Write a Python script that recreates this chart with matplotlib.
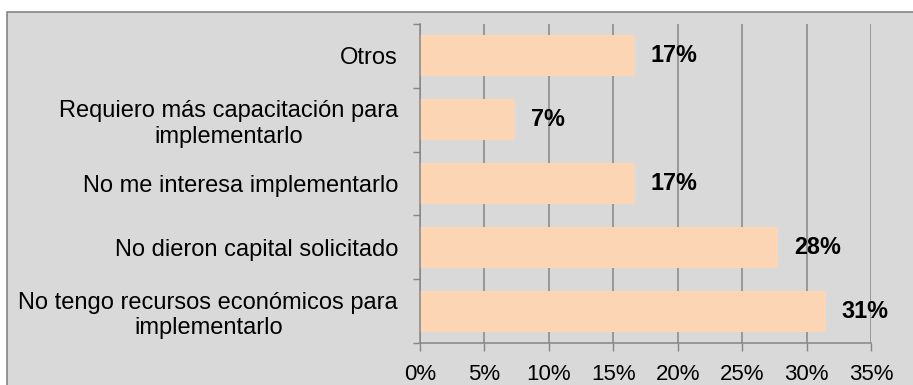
import matplotlib.pyplot as plt
import numpy as np
from matplotlib.patches import Rectangle
from matplotlib.ticker import FixedLocator, PercentFormatter

# respuestas, de arriba hacia abajo (54 encuestados)
categorias = [
    "Otros",
    "Requiero más capacitación para\nimplementarlo",
    "No me interesa implementarlo",
    "No dieron capital solicitado",
    "No tengo recursos económicos para\nimplementarlo",
]
porcentajes = [16.67, 7.41, 16.67, 27.78, 31.48]
ticks_x = [0, 5, 10, 15, 20, 25, 30, 35]

plt.rcParams["font.family"] = ["Liberation Sans", "DejaVu Sans"]

fondo = "#D9D9D9"
gris = "#868686"
durazno = "#FCD5B5"

fig = plt.figure(figsize=(9.13, 3.85), dpi=100)
fig.patch.set_facecolor("white")

# marco gris del area del grafico
marco = Rectangle((7 / 913, -0.1), 1.2, 1 - 12 / 385 + 0.1,
                  transform=fig.transFigure, facecolor=fondo,
                  edgecolor=gris, linewidth=1.2, zorder=-5)
fig.add_artist(marco)

ax = fig.add_axes([420 / 913, 1 - 343 / 385, 451 / 913, 319 / 385])
ax.set_zorder(1)
ax.patch.set_alpha(0)

y = np.arange(len(categorias))
ax.barh(y, porcentajes, height=0.64, color=durazno, zorder=2)

for yi, v in zip(y, porcentajes):
    ax.annotate(f"{v:.0f}%", (v, yi), xytext=(16, 0), textcoords="offset pixels",
                ha="left", va="center", fontsize=16.8, fontweight="bold", zorder=3)

ax.set_xlim(0, 35)
ax.set_ylim(len(categorias) - 0.5, -0.5)
ax.xaxis.set_major_locator(FixedLocator(ticks_x))
ax.xaxis.set_major_formatter(PercentFormatter(decimals=0))
ax.grid(axis="x", color=gris, linewidth=1.1, zorder=1)
ax.set_axisbelow(True)

ax.set_yticks(y)
ax.set_yticklabels(categorias, multialignment="center", linespacing=1.2)
ax.set_yticks(np.arange(len(categorias) + 1) - 0.5, minor=True)
ax.tick_params(axis="y", which="major", length=0, pad=15.8, labelsize=17)
ax.tick_params(axis="y", which="minor", length=5, width=1, color=gris)
ax.tick_params(axis="x", length=5.8, width=1, color=gris, pad=9.5, labelsize=16)

for lado in ["top", "right"]:
    ax.spines[lado].set_visible(False)
for lado in ["left", "bottom"]:
    ax.spines[lado].set_color(gris)
    ax.spines[lado].set_linewidth(1.1)

fig.savefig("out.png", dpi=100, facecolor=fig.get_facecolor())
